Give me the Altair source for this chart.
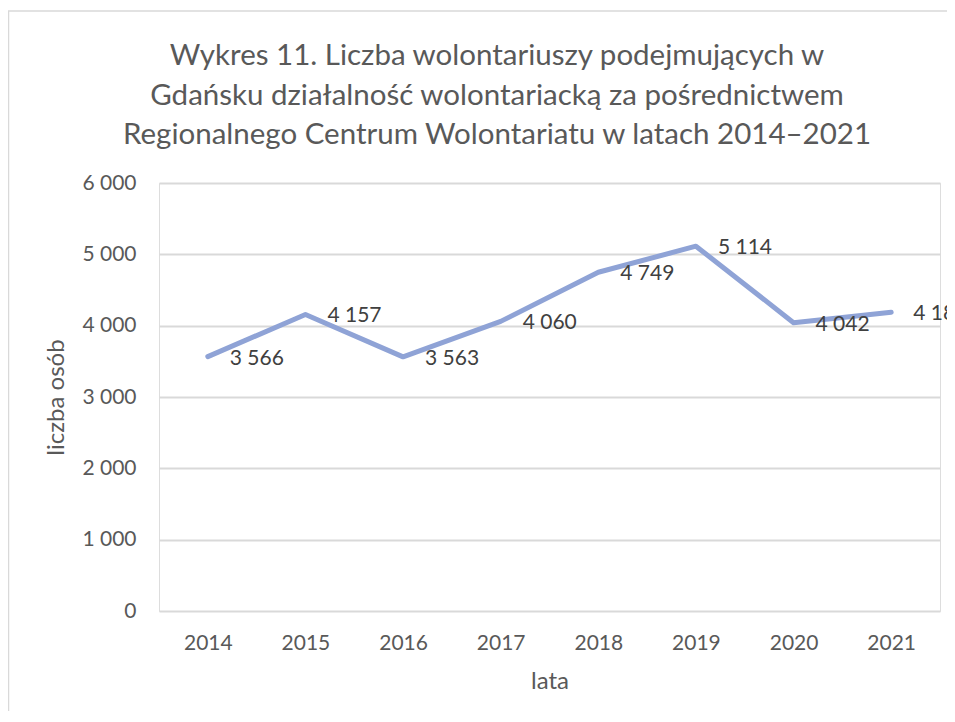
import altair as alt
import pandas as pd

years = ["2014", "2015", "2016", "2017", "2018", "2019", "2020", "2021"]
values = [3566, 4157, 3563, 4060, 4749, 5114, 4042, 4188]
y_ticks = [0, 1000, 2000, 3000, 4000, 5000, 6000]
title_lines = ["Wykres 11. Liczba wolontariuszy podejmujących w",
               "Gdańsku działalność wolontariacką za pośrednictwem",
               "Regionalnego Centrum Wolontariatu w latach 2014–2021"]

df = pd.DataFrame({"rok": years, "liczba": values})
df["etykieta"] = [f"{v:,}".replace(",", " ") for v in values]

FONT = "Lato"
GREY = "#595959"
LINE = "#8FA3D6"

x = alt.X("rok:N", title="lata", sort=years,
          scale=alt.Scale(paddingInner=0, paddingOuter=0.5),
          axis=alt.Axis(labelAngle=0, ticks=False, domain=False, grid=False,
                        labelFontSize=21, labelColor=GREY, labelPadding=21,
                        titleFontSize=24, titleColor=GREY, titleFontWeight="normal",
                        titlePadding=16, labelFont=FONT, titleFont=FONT))
y = alt.Y("liczba:Q", title="liczba osób",
          scale=alt.Scale(domain=[0, 6000], nice=False),
          axis=alt.Axis(values=y_ticks, ticks=False, domain=False,
                        gridColor="#D9D9D9", gridWidth=2,
                        labelExpr="replace(format(datum.value, ','), ',', ' ')",
                        labelFontSize=21, labelColor=GREY, labelPadding=23,
                        titleFontSize=24, titleColor=GREY, titleFontWeight="normal",
                        titlePadding=13, labelFont=FONT, titleFont=FONT))

base = alt.Chart(df)

line = base.mark_line(color=LINE, strokeWidth=5, strokeCap="round",
                      strokeJoin="round").encode(x=x, y=y)

labels = base.mark_text(align="left", baseline="middle", dx=22, dy=2,
                        fontSize=21, font=FONT, color="#404040").encode(
    x=alt.X("rok:N", sort=years), y="liczba:Q", text="etykieta:N")

one = pd.DataFrame({"a": [0]})
frame = alt.Chart(one).mark_rect(
    fill=None, stroke="#D9D9D9", strokeWidth=1.5).encode(
    x=alt.value(-150.5), x2=alt.value(840), y=alt.value(-172), y2=alt.value(600))

title = alt.Chart(one).mark_text(
    text=title_lines, align="center", baseline="alphabetic", lineHeight=39.5,
    font=FONT, fontSize=29.5, color=GREY).encode(
    x=alt.value(338), y=alt.value(-118))

chart = alt.layer(frame, title, line, labels).properties(
    width=781, height=428,
    autosize=alt.AutoSizeParams(type="none"),
    padding={"left": 151, "top": 175, "right": 7, "bottom": 100},
).configure_view(stroke=None).configure(background="white")

chart.save("out.html", embed_options={"renderer": "svg", "actions": False})
